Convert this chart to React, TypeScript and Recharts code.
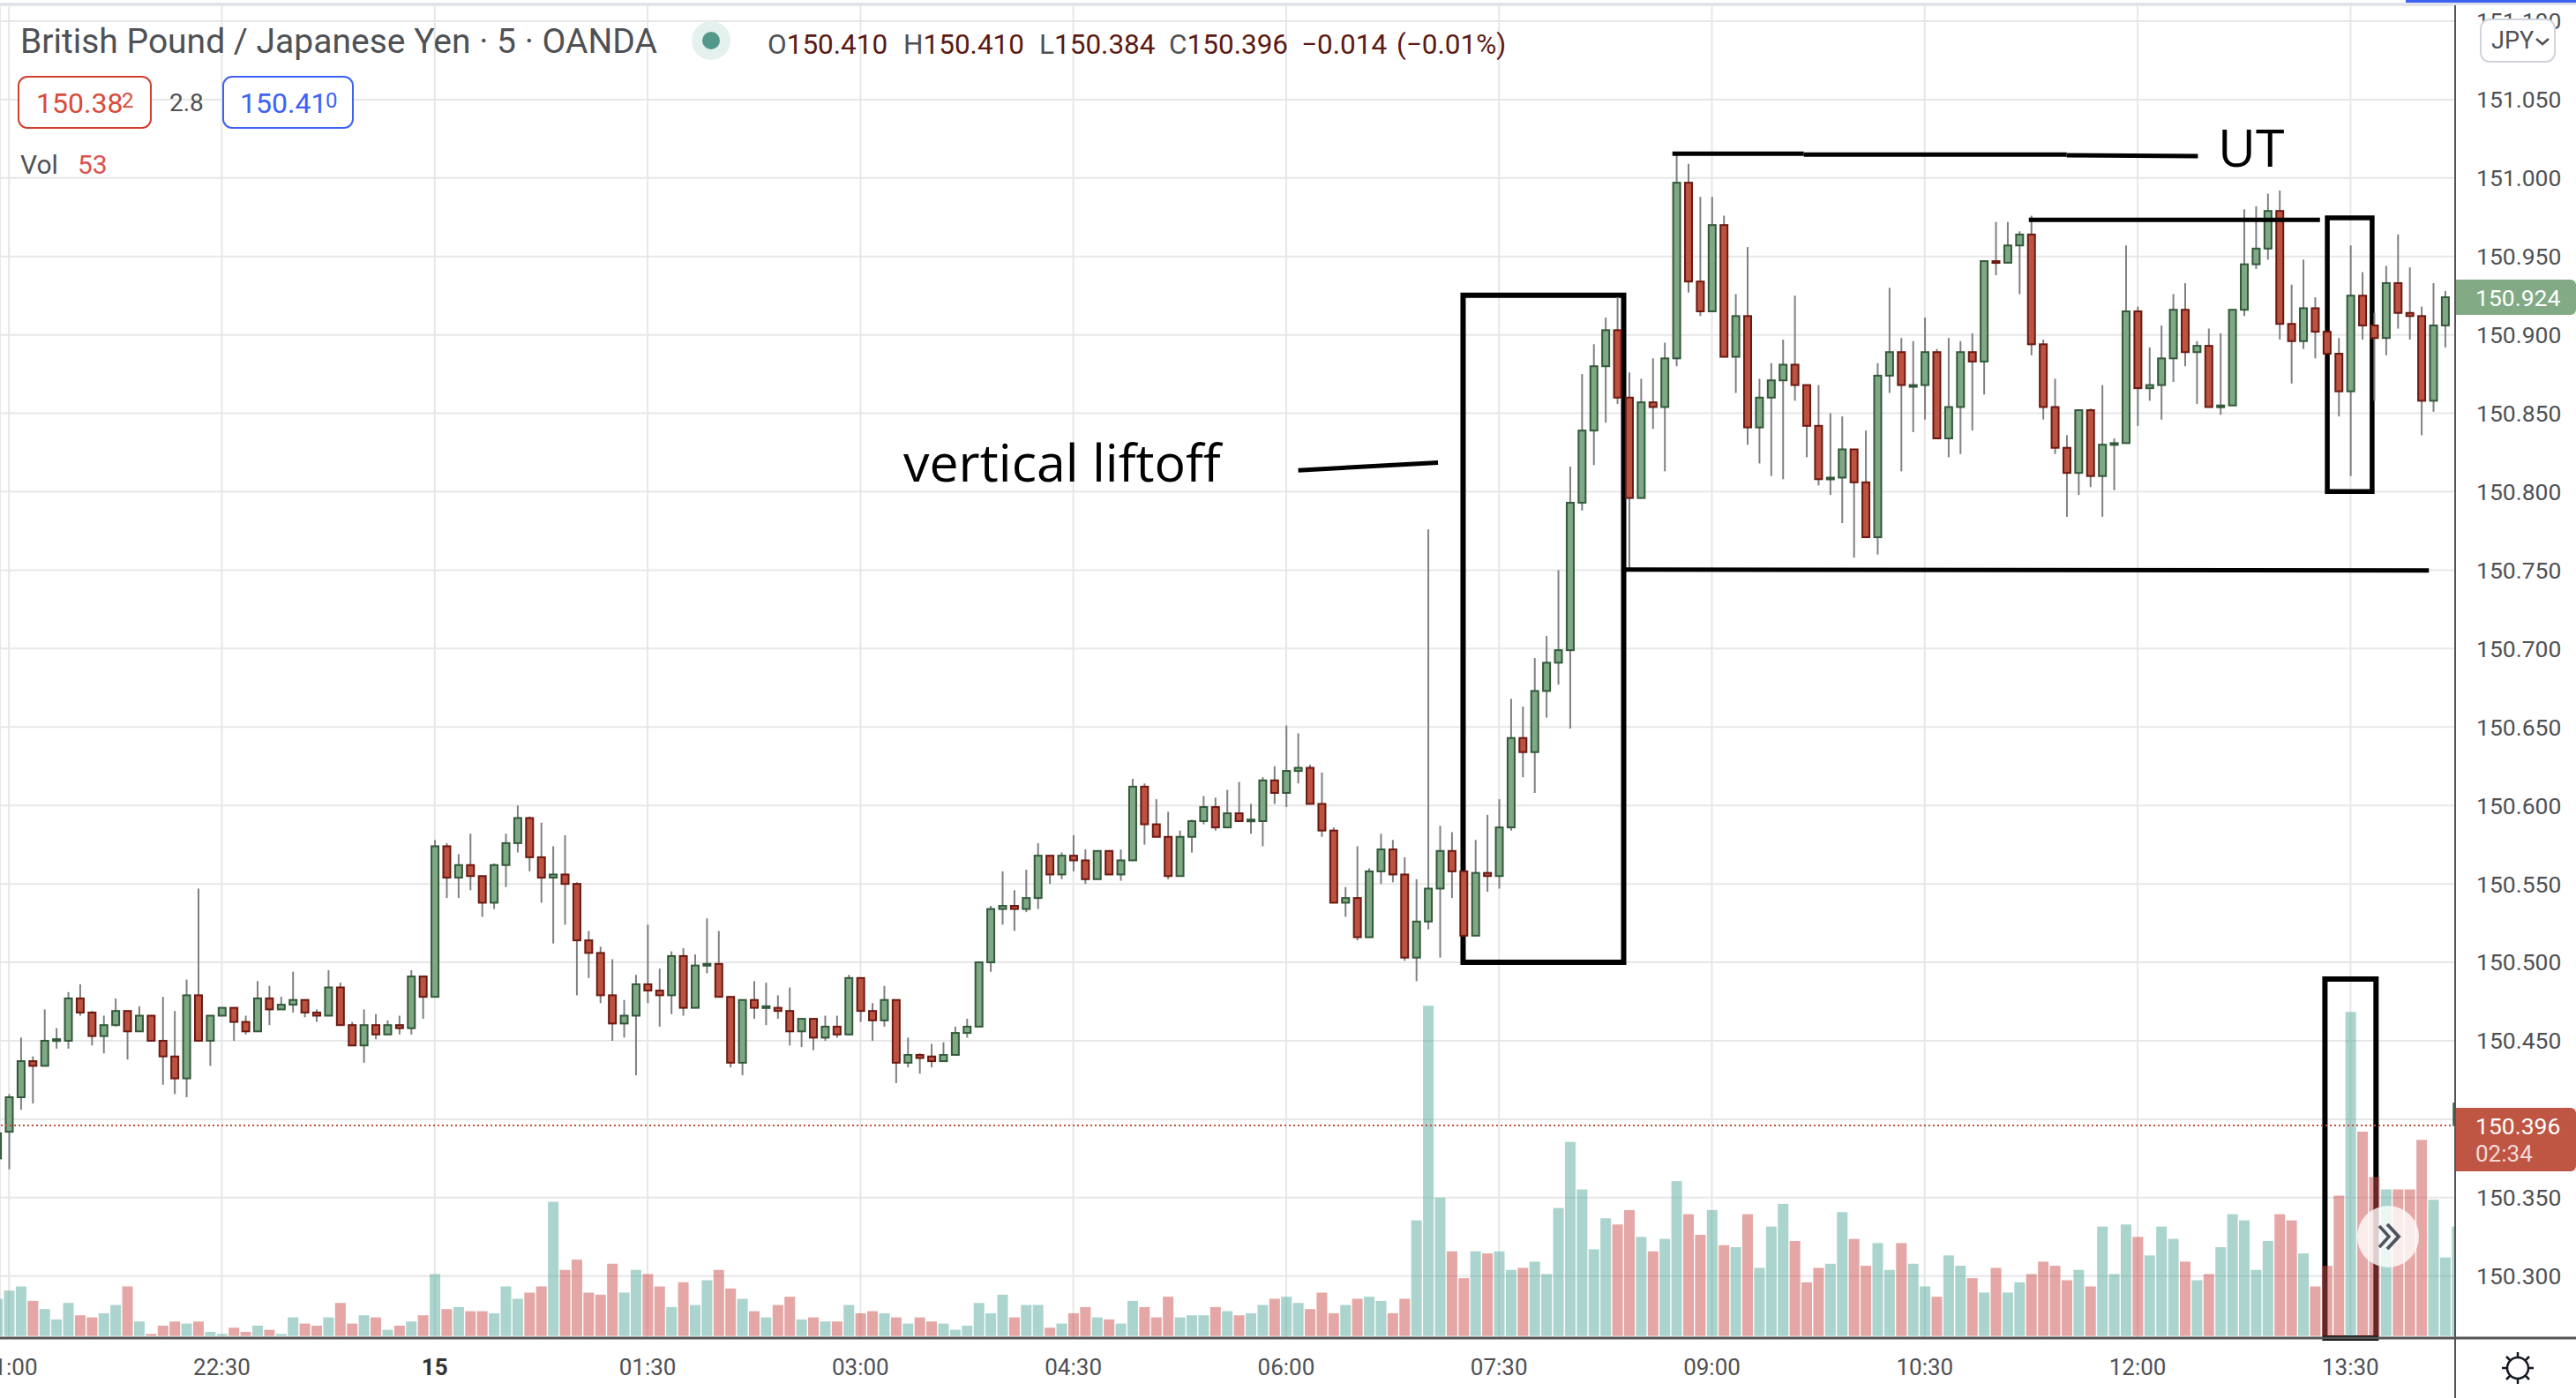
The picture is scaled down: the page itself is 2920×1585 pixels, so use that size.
import { Bar, CartesianGrid, ComposedChart, ReferenceArea, ReferenceLine, XAxis, YAxis } from 'recharts';

// prices are stored in thousandths of a yen above 150, first row starts one bar left of 21:00
const PRICE_BASE = 150;

const opens = [
  375,392,414,437,434,450,450,477,468,453,
  460,469,456,466,450,440,426,479,450,466,
  471,462,456,477,470,473,476,468,466,484,
  460,447,460,454,460,458,491,478,574,554,
  562,555,538,562,576,592,567,554,556,550,
  514,506,479,461,466,486,482,479,504,471,
  498,499,478,436,476,471,471,469,456,464,
  452,459,454,490,469,463,476,436,441,440,
  437,441,455,459,500,534,536,534,541,568,
  556,568,565,553,571,556,565,612,588,580,
  555,580,590,599,586,595,590,590,616,608,
  622,624,601,584,538,541,516,558,572,556,
  503,526,547,571,558,517,557,555,586,643,
  634,673,691,699,793,839,880,903,860,796,
  857,854,885,997,934,915,970,886,912,841,
  860,871,881,868,842,808,809,827,806,771,
  874,889,867,868,889,834,854,889,883,947,
  946,957,964,894,854,828,812,852,810,830,
  831,915,866,868,885,916,889,893,854,855,
  916,945,955,979,907,896,917,902,888,864,
  925,906,898,933,914,912,858,906,396,
];

const highs = [
  392,416,452,440,470,458,481,486,469,466,
  477,469,472,466,478,469,489,547,466,471,
  471,466,488,485,478,494,476,470,495,487,
  462,470,467,463,466,495,491,578,576,569,
  582,555,563,582,600,593,589,574,581,551,
  520,510,502,476,492,524,496,507,509,505,
  528,520,478,476,488,487,479,484,464,464,
  466,466,492,490,474,485,476,452,442,448,
  449,459,464,500,536,558,546,559,576,568,
  570,581,572,571,571,572,617,614,604,596,
  584,591,606,605,610,615,601,618,625,651,
  646,626,621,586,548,574,560,582,578,567,
  553,776,587,583,558,578,594,604,668,663,
  694,708,750,816,875,894,911,924,876,872,
  885,895,1016,1009,988,988,976,926,956,872,
  882,897,925,868,868,850,848,827,839,882,
  930,898,896,911,891,898,896,901,947,972,
  972,966,976,897,872,836,852,853,868,834,
  957,918,892,906,926,933,896,904,901,916,
  980,982,990,992,932,948,924,902,898,957,
  940,914,944,964,943,918,933,928,410,
];

const lows = [
  370,368,406,410,434,445,445,466,447,442,
  459,438,456,450,422,416,414,450,434,466,
  450,454,456,460,470,468,465,462,466,460,
  447,436,451,454,454,454,464,478,541,541,
  546,529,534,548,570,558,538,512,524,479,
  490,474,450,452,428,474,459,467,466,471,
  493,478,433,428,464,460,464,447,446,444,
  450,452,454,462,450,459,423,433,429,433,
  437,441,452,459,494,524,520,532,534,550,
  553,558,550,553,556,552,565,575,580,553,
  555,570,588,584,586,590,582,574,601,599,
  614,601,580,538,529,514,516,550,551,501,
  488,521,503,541,517,517,545,547,584,618,
  608,656,677,649,788,817,844,856,750,796,
  840,813,880,927,912,915,886,863,830,818,
  810,808,858,822,804,798,780,758,771,760,
  863,813,838,846,834,822,824,839,862,938,
  946,926,887,846,824,784,798,803,784,801,
  831,842,858,846,870,880,856,854,849,855,
  912,942,948,897,869,891,885,888,848,810,
  897,858,887,904,897,836,851,892,384,
];

const closes = [
  391,414,437,434,450,451,477,468,453,460,
  469,456,466,450,440,426,479,450,466,471,
  462,456,477,470,473,476,468,466,484,460,
  447,460,454,460,458,491,478,574,554,562,
  555,538,562,576,592,567,554,556,550,514,
  506,479,461,466,486,482,479,504,471,498,
  499,478,436,476,471,472,469,456,464,452,
  459,454,490,469,463,476,436,441,439,437,
  441,455,459,500,534,536,534,541,568,556,
  568,565,553,571,556,565,612,588,580,555,
  580,590,599,586,595,590,591,616,608,622,
  624,601,584,538,541,516,558,572,556,503,
  526,547,571,558,517,557,555,586,643,634,
  673,691,699,793,839,880,903,860,796,857,
  854,885,997,934,915,970,886,912,841,860,
  871,881,868,842,808,809,827,806,771,874,
  889,868,868,889,834,854,889,883,947,946,
  957,964,894,854,828,812,852,810,830,831,
  915,866,868,885,916,889,893,854,855,916,
  945,955,979,907,896,917,902,888,864,925,
  906,898,933,914,912,858,906,924,410,
];

const volumes = [
  18,22,24,17,13,8,16,10,9,11,
  15,24,7,1,5,7,6,7,2,1,
  4,2,5,3,1,9,6,5,9,16,
  6,10,9,3,5,7,10,30,13,14,
  12,12,11,24,18,21,24,65,32,37,
  21,20,35,21,32,30,24,14,26,15,
  27,32,23,18,12,9,15,19,8,9,
  7,7,15,11,12,11,9,6,9,7,
  6,3,5,16,11,20,9,15,15,4,
  6,11,14,9,8,6,17,14,9,19,
  9,10,10,14,12,10,11,15,18,19,
  16,13,21,11,15,18,19,17,11,18,
  56,160,67,41,28,41,40,41,32,33,
  36,30,62,94,71,42,57,54,61,48,
  41,47,75,59,49,61,44,43,59,33,
  53,64,46,26,33,35,60,47,34,45,
  32,45,35,24,19,39,34,28,21,33,
  21,26,30,36,34,27,32,24,53,30,
  54,48,39,53,47,36,27,30,43,59,
  56,32,46,59,56,40,24,34,68,157,
  99,77,71,71,71,95,66,38,53,
];

const timeSlots = [0, 18, 36, 54, 72, 90, 108, 126, 144, 162, 180, 198];
const timeLabels = ['21:00', '22:30', '15', '01:30', '03:00', '04:30', '06:00', '07:30', '09:00', '10:30', '12:00', '13:30'];
const priceTicks = [150.3, 150.35, 150.4, 150.45, 150.5, 150.55, 150.6, 150.65, 150.7, 150.75, 150.8, 150.85, 150.9, 150.95, 151, 151.05, 151.1];

const lastPrice = 150.396;

// hand drawn marks on the chart, in slot / price units
const boxes = [
  { x1: 122.96, x2: 136.54, y1: 150.5, y2: 150.9253, width: 6 },
  { x1: 196.04, x2: 199.83, y1: 150.8001, y2: 150.9746, width: 5.5 },
  { x1: 195.84, x2: 200.16, y1: 150.2605, y2: 150.4893, width: 6 },
];
const strokes = [
  { from: [140.66, 151.0155], to: [151.77, 151.0155] },
  { from: [151.77, 151.015], to: [174.0, 151.015] },
  { from: [174.0, 151.0145], to: [185.1, 151.014] },
  { from: [170.8, 150.9733], to: [195.42, 150.9733] },
  { from: [136.65, 150.7504], to: [204.63, 150.7498] },
  { from: [109.02, 150.8137], to: [120.84, 150.8185] },
];

const candles = opens.map((open, k) => ({
  slot: k - 1,
  open: PRICE_BASE + open / 1000,
  high: PRICE_BASE + highs[k] / 1000,
  low: PRICE_BASE + lows[k] / 1000,
  close: PRICE_BASE + closes[k] / 1000,
  volume: volumes[k],
}));

const slotDomain = [-0.761, 206.85];
const priceDomain = [150.2605, 151.1101];
const volumeDomain = [-1, 644.7];

const GRID = '#e7e7e9';
const TEXT = '#4f5155';
const FONT = 'Roboto';

function Candle(props: any) {
  const { x, y, width, height, payload } = props;
  const up = payload.close >= payload.open;
  const perPrice = height / (payload.high - payload.low);
  const top = y + (payload.high - Math.max(payload.open, payload.close)) * perPrice;
  const bodyHeight = Math.max(Math.abs(payload.open - payload.close) * perPrice, 2);
  const mid = x + width / 2;
  return (
    <g>
      <line x1={mid} x2={mid} y1={y} y2={y + height} stroke="#808080" strokeWidth={2} />
      <rect
        x={x + 1}
        y={top}
        width={width - 2}
        height={bodyHeight}
        fill={up ? '#7fa884' : '#bc5240'}
        stroke={up ? '#33593a' : '#6b1a12'}
        strokeWidth={2}
      />
    </g>
  );
}

function VolumeBar(props: any) {
  const { x, y, width, height, payload } = props;
  const up = payload.close >= payload.open;
  return <rect x={x} y={y} width={width} height={height} fill={up ? '#55a99b' : '#c94f4b'} fillOpacity={0.5} />;
}

function TimeTick(props: any) {
  const { x, y, payload } = props;
  const label = timeLabels[timeSlots.indexOf(payload.value)];
  const isDay = label === '15';
  return (
    <text x={x} y={y + 40} textAnchor="middle" fontFamily={FONT} fontSize={26} fontWeight={isDay ? 700 : 400} fill={isDay ? '#333' : TEXT}>
      {label}
    </text>
  );
}

function Overlay() {
  return (
    <svg width={2920} height={1585} style={{ position: 'absolute', left: 0, top: 0 }} fontFamily={FONT}>
      <rect x={0} y={3} width={2920} height={3} fill="#e0e3eb" />
      <rect x={2727} y={0} width={193} height={3} fill="#3e63f4" />
      <line x1={0} x2={2920} y1={1517} y2={1517} stroke="#555" strokeWidth={3} />
      <line x1={2783} x2={2783} y1={6} y2={1585} stroke="#555" strokeWidth={2} />

      {/* legend */}
      <text x={23} y={60} fontSize={39} fill={TEXT}>British Pound / Japanese Yen · 5 · OANDA</text>
      <circle cx={806} cy={46} r={22} fill="#e4f1ee" />
      <circle cx={806} cy={46} r={10} fill="#53998b" />
      <text y={61} fontSize={31.5} fill="#5b1a13">
        <tspan x={870} fill={TEXT}>O</tspan><tspan>150.410</tspan>
        <tspan x={1024} fill={TEXT}>H</tspan><tspan>150.410</tspan>
        <tspan x={1178} fill={TEXT}>L</tspan><tspan>150.384</tspan>
        <tspan x={1325} fill={TEXT}>C</tspan><tspan>150.396</tspan>
        <tspan x={1475}>−0.014</tspan>
        <tspan x={1583}>(−0.01%)</tspan>
      </text>
      <rect x={21} y={87} width={150} height={58} rx={10} fill="#fff" stroke="#d0402f" strokeWidth={2} />
      <text x={41} y={128} fontSize={32} fill="#d84b3a">150.38</text>
      <text x={138} y={122} fontSize={24} fill="#d84b3a">2</text>
      <text x={192} y={126} fontSize={28} fill={TEXT}>2.8</text>
      <rect x={253} y={87} width={147} height={58} rx={10} fill="#fff" stroke="#3d62f5" strokeWidth={2} />
      <text x={272} y={128} fontSize={32} fill="#3d62f5">150.41</text>
      <text x={369} y={122} fontSize={24} fill="#3d62f5">0</text>
      <text x={23} y={197} fontSize={30} fill={TEXT}>Vol</text>
      <text x={88} y={197} fontSize={30} fill="#d9534f">53</text>

      {/* annotation text */}
      <text x={1024} y={546} fontFamily="Open Sans" fontSize={59} fill="#000">vertical liftoff</text>
      <text x={2514} y={189} fontFamily="Open Sans" fontSize={59} fill="#000">UT</text>

      {/* price scale tags */}
      <rect x={2812} y={22} width={84} height={48} rx={10} fill="#fff" stroke="#d1d4dc" strokeWidth={2} />
      <text x={2824} y={55} fontSize={27} fill={TEXT}>JPY</text>
      <path d="M2875 44 l7 6 l7 -6" fill="none" stroke={TEXT} strokeWidth={2.5} />
      <path d="M2784 317 h130 a6 6 0 0 1 6 6 v28 a6 6 0 0 1 -6 6 h-130 z" fill="#82aa85" />
      <text x={2806} y={347} fontSize={26.5} fill="#fff">150.924</text>
      <path d="M2784 1256 h130 a6 6 0 0 1 6 6 v60 a6 6 0 0 1 -6 6 h-130 z" fill="#bf5543" />
      <text x={2806} y={1286} fontSize={26.5} fill="#fff">150.396</text>
      <text x={2806} y={1317} fontSize={26} fill="#fff" fillOpacity={0.8}>02:34</text>

      {/* scroll button */}
      <circle cx={2707} cy={1402} r={35} fill="#fff" fillOpacity={0.78} />
      <path d="M2697 1390 l11 12 l-11 12" fill="none" stroke="#50535e" strokeWidth={3.5} />
      <path d="M2706 1388 l13 14 l-13 14" fill="none" stroke="#50535e" strokeWidth={4} />

      {/* settings gear */}
      <g stroke="#131722" strokeWidth={2.5} fill="none">
        <circle cx={2854} cy={1551} r={12} />
        <path d="M2854 1533 v6 M2854 1563 v6 M2836 1551 h6 M2866 1551 h6 M2841 1538 l4 4 M2863 1560 l4 4 M2867 1538 l-4 4 M2845 1560 l-4 4" />
      </g>
    </svg>
  );
}

export default function App() {
  return (
    <div style={{ position: 'absolute', left: 0, top: 0, width: 2920, height: 1585, background: '#fff', overflow: 'hidden' }}>
      <ComposedChart width={2920} height={1585} data={candles} margin={{ top: 6, right: 0, bottom: 0, left: 0 }}>
        <XAxis
          dataKey="slot"
          type="number"
          domain={slotDomain}
          ticks={timeSlots}
          interval={0}
          allowDataOverflow
          height={68}
          axisLine={false}
          tickLine={false}
          tickSize={0}
          tick={<TimeTick />}
        />
        <XAxis xAxisId="candle" dataKey="slot" type="number" domain={slotDomain} allowDataOverflow hide />
        <XAxis xAxisId="volume" dataKey="slot" type="number" domain={slotDomain} allowDataOverflow hide />
        <YAxis
          yAxisId="price"
          orientation="right"
          type="number"
          domain={priceDomain}
          ticks={priceTicks}
          interval={0}
          allowDataOverflow
          width={137}
          axisLine={false}
          tickLine={false}
          tickSize={0}
          tickMargin={24}
          tickFormatter={(v: number) => v.toFixed(3)}
          tick={{ fill: TEXT, fontSize: 26.5, fontFamily: FONT }}
        />
        <YAxis yAxisId="vol" type="number" domain={volumeDomain} allowDataOverflow hide />
        <CartesianGrid yAxisId="price" stroke={GRID} strokeWidth={2} />
        <Bar xAxisId="volume" yAxisId="vol" dataKey="volume" barSize={12} shape={<VolumeBar />} isAnimationActive={false} />
        <Bar
          xAxisId="candle"
          yAxisId="price"
          dataKey={(d: any) => [d.low, d.high]}
          barSize={10}
          shape={<Candle />}
          isAnimationActive={false}
        />
        <ReferenceLine yAxisId="price" y={lastPrice} stroke="#c0503c" strokeWidth={2} strokeDasharray="2 3" />
        {boxes.map((b, k) => (
          <ReferenceArea
            key={k}
            yAxisId="price"
            x1={b.x1}
            x2={b.x2}
            y1={b.y1}
            y2={b.y2}
            fill="none"
            stroke="#000"
            strokeWidth={b.width}
            ifOverflow="visible"
          />
        ))}
        {strokes.map((s, k) => (
          <ReferenceLine
            key={k}
            yAxisId="price"
            segment={[{ x: s.from[0], y: s.from[1] }, { x: s.to[0], y: s.to[1] }]}
            stroke="#000"
            strokeWidth={5}
            ifOverflow="visible"
          />
        ))}
      </ComposedChart>
      <Overlay />
    </div>
  );
}
